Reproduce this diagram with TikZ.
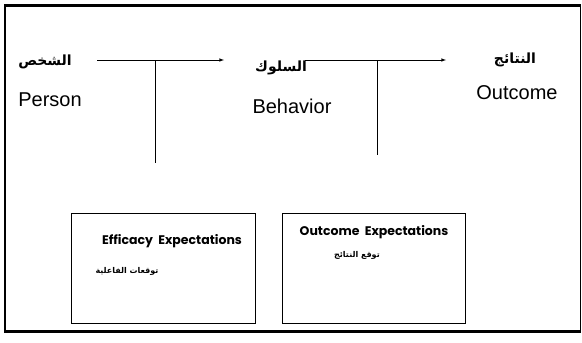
\documentclass[tikz,border=0pt]{standalone}
\usepackage{fontspec}
\setmainfont{Liberation Sans}
\newfontfamily\arabicfont[Script=Arabic]{DejaVu Sans}
\newfontfamily\gothicfont{Poppins}
\TeXXeTstate=1
\usetikzlibrary{arrows}

\begin{document}
\begin{tikzpicture}[x=1pt,y=-1pt,
  eng/.style={inner sep=0pt,font=\fontsize{20}{22}\selectfont},
  arb/.style={inner sep=0pt,font=\fontsize{14}{16}\selectfont\arabicfont\bfseries},
  boxtitle/.style={inner sep=0pt,font=\fontsize{12.5}{14}\selectfont\gothicfont\bfseries},
  boxarb/.style={inner sep=0pt,font=\fontsize{8}{10}\selectfont\arabicfont\bfseries},
  expbox/.style={draw,line width=0.6pt,anchor=north west,inner sep=0pt,minimum height=110pt}]

  \useasboundingbox (0,0) rectangle (582,343);

  % frame
  \draw[line width=3pt] (4,5) -- (581,5);
  \draw[line width=3pt] (4,331) -- (581,331);
  \draw[line width=2pt] (5,5) -- (5,331);
  \draw[line width=0.8pt] (580,5) -- (580,331);

  % the three stages
  \node[arb] (personar) at (45,62) {\beginR الشخص\endR};
  \node[eng] (person) at (50,100) {Person};
  \node[arb] (behaviorar) at (281,68) {\beginR السلوك\endR};
  \node[eng] (behavior) at (292,106) {Behavior};
  \node[arb] (outcomear) at (515,60) {\beginR النتائج\endR};
  \node[eng] (outcome) at (517,93) {Outcome};

  \coordinate (a1s) at (97,60);
  \coordinate (a1e) at (224,60);
  \coordinate (a2s) at (305,60);
  \coordinate (a2e) at (446,60);
  \coordinate (v1) at (155,163);
  \coordinate (v2) at (377,155);

  \draw[line width=0.6pt,-latex] (a1s) -- (a1e);
  \draw[line width=0.6pt,-latex] (a2s) -- (a2e);
  \draw[line width=0.6pt] (155,60) -- (v1);
  \draw[line width=0.6pt] (377,60) -- (v2);

  % expectation boxes
  \node[expbox,minimum width=184pt] (effbox) at (71,213) {};
  \node[expbox,minimum width=183pt] (outbox) at (282,213) {};

  \node[boxtitle] (efftitle) at (172,241) {Efficacy\ \ Expectations};
  \node[boxarb] (effar) at (127,271) {\beginR توقعات الفاعلية\endR};
  \node[boxtitle] (outtitle) at (374,232) {Outcome\ \ Expectations};
  \node[boxarb] (outar) at (357,255) {\beginR توقع النتائج\endR};

\end{tikzpicture}
\end{document}
